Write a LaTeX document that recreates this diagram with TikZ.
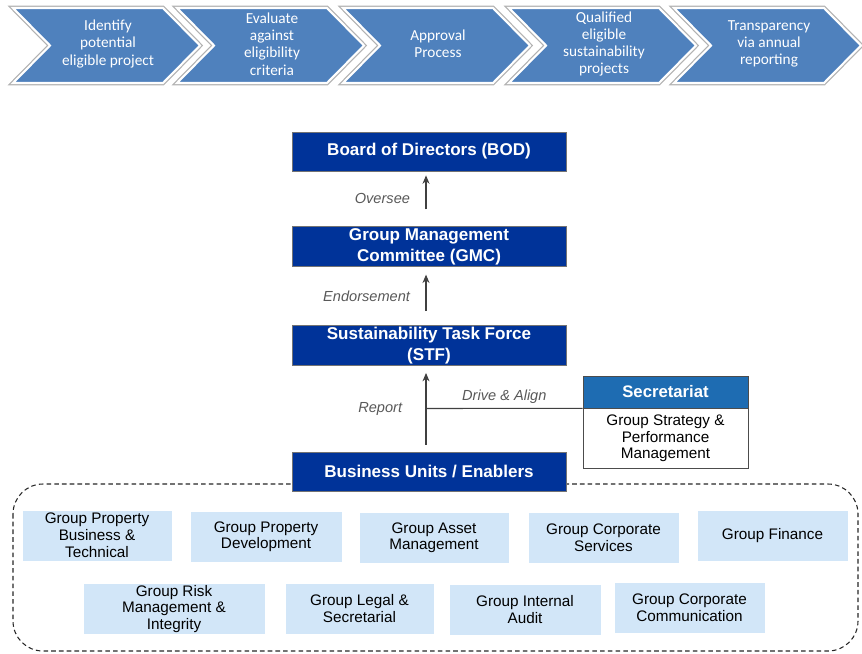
\documentclass[tikz,border=0pt]{standalone}
\usepackage{fontspec}
\setmainfont{Liberation Sans}
\newfontfamily\chevfont{Carlito}
\definecolor{chevblue}{RGB}{79,129,189}
\definecolor{navyblue}{RGB}{0,51,153}
\definecolor{secblue}{RGB}{30,108,178}
\definecolor{unitblue}{RGB}{210,230,248}
\definecolor{lblgray}{RGB}{89,89,89}
\usetikzlibrary{positioning,arrows.meta}

\begin{document}
\begin{tikzpicture}[x=0.02cm, y=-0.02cm, >={Stealth[length=4.8pt, width=4pt]},
    chev/.style={fill=chevblue, draw=white, line width=1.2pt, preaction={draw=black!30, line width=2.6pt}},
    chevtxt/.style={text=white, align=center, font=\chevfont\fontsize{8.7}{9.8}\selectfont},
    govbox/.style={fill=navyblue, draw=black!55, text=white, align=center, minimum width=5.48cm, minimum height=0.78cm, inner sep=1pt, font=\fontsize{9.7}{11.8}\selectfont\bfseries},
    unitbox/.style={fill=unitblue, draw=white, align=center, minimum height=1.02cm, inner sep=1pt, font=\fontsize{8.7}{9.6}\selectfont},
    lbl/.style={text=lblgray, font=\fontsize{8.3}{10}\selectfont\itshape},
    flecha/.style={->, black!75, line width=0.6pt},
    grupo/.style={draw=black!85, line width=0.6pt, dash pattern=on 2.6pt off 1.8pt, rounded corners=0.6cm}]
    \useasboundingbox (0,0) rectangle (862,653);

    % Proceso
    \foreach \x/\txt [count=\i] in {13/{Identify\\potential\\eligible project}, 177/{Evaluate\\against\\eligibility\\criteria}, 343/{Approval\\Process}, 509/{Qualified\\eligible\\sustainability\\projects}, 674/{Transparency\\via annual\\reporting}} {
        \draw[chev] (\x,8) -- ++(150,0) -- ++(37,37.5) -- ++(-37,37.5) -- ++(-150,0) -- ++(37,-37.5) -- cycle;
        \node[chevtxt] (stage\i) at (\x+95,44) {\txt};
    }

    % Marco de unidades
    \draw[grupo] (13,484) rectangle (858,651);

    % Gobernanza
    \node[govbox] (bod) at (429,151.5) {Board of Directors (BOD)};
    \node[govbox] (gmc) at (429,246.5) {Group Management\\Committee (GMC)};
    \node[govbox] (stf) at (429,345.5) {Sustainability Task Force\\(STF)};
    \node[govbox] (bu) at (429,471.5) {Business Units / Enablers};

    % Flechas
    \draw[flecha, shorten <=9.6pt, shorten >=2.3pt] ([xshift=-1.7pt]gmc.north) -- node[lbl, midway, left=5.5pt] {Oversee} ([xshift=-1.7pt]bod.south);
    \draw[flecha, shorten <=7.9pt, shorten >=4.5pt] ([xshift=-1.7pt]stf.north) -- node[lbl, midway, left=5.5pt] {Endorsement} ([xshift=-1.7pt]gmc.south);
    \draw[flecha, shorten <=4pt, shorten >=4pt] ([xshift=-1.7pt]bu.north) -- node[lbl, midway, left=10pt] {Report} ([xshift=-1.7pt]stf.south);

    % Secretaria
    \node[fill=secblue, draw=black!70, text=white, minimum width=3.3cm, minimum height=0.64cm, inner sep=1pt, font=\fontsize{9.5}{11}\selectfont\bfseries] (sechead) at (665.5,392) {Secretariat};
    \node[fill=white, draw=black!70, align=center, minimum width=3.3cm, minimum height=1.2cm, inner sep=1pt, font=\fontsize{8.7}{9.4}\selectfont, below=0pt of sechead] (secbody) {Group Strategy \&\\Performance\\Management};
    \coordinate (drive) at (426,408.5);
    \draw[black!75, line width=0.6pt] (drive) -- node[lbl, midway, above=-1pt] {Drive \& Align} (sechead.south west);

    % Unidades de negocio
    \foreach \x/\y/\w/\txt [count=\i] in {97/535.5/3.0/{Group Property\\Business \&\\Technical}, 266/536.7/3.04/{Group Property\\Development}, 434/537.8/3.0/{Group Asset\\Management}, 603.5/538/3.02/{Group Corporate\\Services}, 772.5/535.5/3.02/{Group Finance}, 174/609/3.64/{Group Risk\\Management \&\\Integrity}, 359.5/608.7/2.98/{Group Legal \&\\Secretarial}, 525/609.5/3.04/{Group Internal\\Audit}, 689.5/608/3.02/{Group Corporate\\Communication}} {
        \node[unitbox, minimum width=\w cm] (unit\i) at (\x,\y) {\txt};
    }
\end{tikzpicture}
\end{document}
